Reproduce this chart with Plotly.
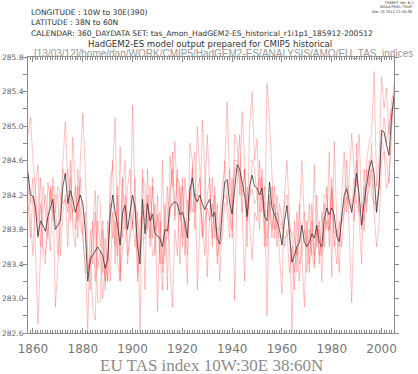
import plotly.graph_objects as go

years = list(range(1858, 2006))

ens_mean = [
    284.45, 284.2, 284.18, 284.05, 283.72, 283.9, 283.85, 283.78, 283.95, 284.05,
    284.15, 283.8, 283.85, 283.9, 284.3, 284.45, 284.1, 284.25, 284.15, 284.0,
    284.1, 284.2, 284.1, 283.8, 283.2, 283.45, 283.5, 283.55, 283.6, 283.55,
    283.5, 283.35, 283.45, 283.95, 284.2, 284.0, 283.85, 283.62, 284.0, 284.08,
    283.8, 284.0, 284.2, 284.05, 283.6, 283.4, 284.15, 283.75, 284.1, 283.9,
    283.98, 283.75, 283.73, 283.7, 283.6, 283.8, 283.78, 284.05, 284.1, 284.12,
    284.1, 283.97, 284.0, 283.9, 283.7, 284.25, 284.4, 284.18, 284.12, 284.2,
    284.1, 284.03, 284.1, 284.15, 283.95, 284.0, 283.7, 283.63, 284.0, 284.35,
    284.38, 284.1, 283.98, 284.25, 284.55, 284.5, 284.35, 284.2, 283.95, 284.3,
    284.43, 284.3, 284.28, 284.2, 284.28, 283.95, 283.9, 284.35, 284.05, 283.98,
    283.9, 283.8, 283.62, 283.9, 284.08, 283.75, 283.42, 283.5, 283.6, 283.65,
    283.85, 283.65, 283.6, 283.65, 283.75, 283.7, 283.85, 283.65, 283.6, 283.92,
    284.05, 283.97, 284.05, 283.97, 283.72, 283.66, 283.92, 284.2, 284.27, 284.12,
    284.0, 284.2, 284.45, 284.2, 283.85, 284.12, 284.3, 284.5, 284.6, 284.45,
    284.0, 284.28, 284.95, 284.93, 284.78, 284.66, 285.1, 285.35,
]

member_r1 = [
    284.9, 285.1, 284.6, 284.2, 283.9, 284.4, 283.5, 283.4, 284.35, 284.1,
    284.4, 284.1, 283.5, 284.1, 284.6, 285.05, 284.3, 283.9, 284.87, 284.3,
    283.7, 284.6, 285.15, 284.5, 283.5, 283.1, 283.9, 283.2, 284.2, 284.1,
    283.3, 283.7, 283.2, 284.4, 284.5, 285.1, 283.5, 284.76, 283.7, 284.2,
    283.4, 283.8, 285.24, 284.1, 283.9, 282.62, 284.4, 284.3, 283.8, 284.3,
    283.7, 284.1, 282.85, 283.9, 283.4, 284.1, 283.1, 284.65, 284.3, 284.82,
    284.0, 283.4, 284.4, 283.8, 283.16, 284.8, 284.6, 283.8, 284.99, 284.5,
    283.7, 284.2, 284.9, 284.3, 283.6, 284.2, 283.4, 283.9, 284.3, 284.5,
    285.28, 284.3, 283.7, 284.9, 284.8, 284.2, 285.17, 284.6, 283.6, 285.0,
    285.4, 284.6, 284.85, 284.0, 284.5, 283.6, 285.5, 285.07, 284.4, 283.8,
    284.2, 283.5, 283.05, 284.2, 284.6, 284.0, 282.62, 283.9, 283.3, 283.9,
    284.6, 283.9, 283.3, 283.8, 283.5, 284.55, 283.6, 283.9, 283.2, 284.1,
    283.8, 284.7, 283.25, 284.82, 283.9, 283.3, 284.2, 284.7, 284.0, 284.4,
    284.91, 284.5, 284.3, 284.9, 284.1, 283.9, 284.6, 284.8, 284.9, 285.63,
    284.3, 284.6, 285.57, 285.2, 285.44, 284.9, 285.3, 285.38,
]

member_r2 = [
    284.3, 283.9, 283.5, 284.3, 284.55, 283.6, 284.3, 284.0, 283.7, 284.3,
    283.9, 284.2, 284.2, 283.5, 284.0, 284.2, 283.6, 284.6, 283.8, 283.6,
    284.5, 284.0, 283.7, 283.4, 282.65, 283.8, 283.4, 284.0, 282.95, 282.96,
    283.8, 283.1, 283.9, 283.2, 284.0, 283.6, 284.3, 283.3, 284.4, 283.8,
    284.3, 284.5, 283.8, 284.4, 283.3, 283.9, 284.0, 283.1, 284.5, 283.6,
    284.4, 283.5, 284.2, 283.4, 284.6, 283.5, 284.0, 284.2, 284.5, 283.9,
    284.4, 284.3, 283.7, 284.4, 284.0, 283.9, 284.5, 284.7, 283.1, 283.8,
    285.07, 284.5, 283.25, 284.0, 284.4, 283.7, 284.1, 283.2, 283.9, 284.6,
    284.0, 283.7, 284.4, 282.98, 284.3, 284.9, 284.0, 283.2, 284.3, 283.9,
    283.45, 284.0, 283.9, 284.6, 284.0, 284.3, 282.8, 284.2, 283.7, 284.3,
    283.6, 284.1, 283.9, 283.6, 283.8, 283.3, 283.6, 283.1, 284.0, 283.4,
    283.5, 282.9, 283.9, 283.4, 284.1, 283.4, 284.2, 283.4, 284.0, 283.6,
    284.3, 283.6, 284.4, 283.7, 283.4, 283.9, 283.6, 284.0, 284.6, 283.8,
    282.95, 284.0, 284.8, 283.9, 283.4, 284.5, 284.1, 284.3, 284.5, 284.0,
    283.6, 283.85, 284.6, 284.7, 284.28, 284.4, 284.9, 285.5,
]

member_r3 = [
    284.5, 284.1, 284.4, 283.6, 282.7, 283.5, 284.0, 284.2, 283.9, 283.55,
    284.3, 282.9, 283.4, 283.8, 284.5, 284.4, 284.5, 284.1, 284.0, 284.3,
    283.9, 284.4, 283.8, 283.3, 283.3, 283.5, 282.9, 282.75, 283.9, 283.6,
    283.9, 283.2, 283.5, 284.1, 283.7, 283.9, 283.4, 283.2, 284.3, 284.6,
    283.5, 283.7, 283.9, 283.6, 284.0, 283.5, 284.5, 283.9, 284.2, 283.7,
    284.3, 283.8, 283.9, 284.0, 283.3, 283.9, 284.3, 283.4, 282.9, 283.8,
    283.5, 284.3, 283.6, 283.9, 283.5, 284.3, 284.0, 284.2, 284.2, 284.1,
    283.9, 283.5, 284.2, 284.4, 283.7, 284.3, 283.5, 283.6, 283.7, 284.1,
    284.1, 284.5, 284.0, 284.6, 284.6, 284.5, 284.2, 284.5, 284.0, 284.1,
    284.6, 284.5, 284.2, 283.8, 284.4, 283.8, 283.6, 284.0, 284.3, 283.7,
    284.0, 283.9, 283.8, 284.1, 284.2, 283.9, 283.7, 283.3, 283.6, 283.2,
    283.8, 284.0, 283.6, 283.3, 283.9, 283.5, 283.8, 283.5, 283.7, 284.2,
    284.2, 283.8, 284.3, 283.6, 283.8, 283.6, 284.0, 284.1, 284.3, 284.2,
    284.1, 283.9, 284.6, 284.0, 283.8, 284.3, 284.0, 284.6, 284.2, 284.1,
    284.1, 284.3, 284.8, 285.1, 284.8, 285.0, 285.2, 285.2,
]

member_r4 = [
    284.1, 283.7, 284.2, 284.1, 283.7, 284.1, 283.6, 283.5, 283.85, 284.25,
    284.0, 284.0, 284.3, 284.2, 284.1, 284.15, 284.0, 284.4, 283.95, 283.8,
    284.3, 283.8, 283.75, 284.0, 283.35, 283.4, 283.8, 284.25, 283.35, 283.55,
    283.0, 283.4, 283.2, 284.1, 284.6, 283.4, 284.2, 283.2, 283.6, 283.7,
    284.0, 284.0, 283.86, 284.1, 283.2, 283.6, 283.7, 283.7, 283.9, 284.0,
    283.5, 283.6, 283.97, 283.5, 283.1, 283.7, 283.7, 283.95, 284.7, 283.96,
    284.5, 283.9, 284.3, 283.5, 284.14, 284.0, 284.5, 284.0, 284.2, 284.4,
    283.73, 283.9, 284.05, 283.9, 284.1, 283.8, 283.8, 283.8, 284.1, 284.2,
    284.14, 283.9, 283.8, 284.5, 284.5, 284.4, 284.0, 284.5, 283.9, 284.2,
    284.27, 284.1, 284.17, 284.4, 284.2, 284.1, 283.7, 284.13, 283.8, 284.1,
    283.8, 283.7, 283.73, 283.7, 283.72, 283.8, 283.76, 283.7, 283.5, 284.1,
    283.5, 283.8, 283.6, 284.1, 283.5, 283.35, 283.8, 283.8, 283.5, 283.78,
    283.9, 283.78, 284.25, 283.76, 283.78, 283.84, 283.88, 284.0, 284.18, 284.08,
    284.04, 284.4, 284.1, 284.0, 284.1, 283.78, 284.5, 284.3, 284.8, 284.07,
    284.0, 284.37, 284.83, 284.72, 284.6, 284.34, 285.0, 285.32,
]

members = [member_r1, member_r2, member_r3, member_r4]

y_tick_values = [282.6, 283.0, 283.4, 283.8, 284.2, 284.6, 285.0, 285.4, 285.8]
x_tick_values = [1860, 1880, 1900, 1920, 1940, 1960, 1980, 2000]

W, H = 418, 374
L, R, T, B = 28, 394, 57, 333


def px(x):
    return (x - L) / (R - L)


def py(y):
    return (B - y) / (B - T)


fig = go.Figure()
for m in members:
    fig.add_trace(go.Scatter(
        x=years, y=m, mode="lines",
        line=dict(color="rgba(255,40,40,0.28)", width=1),
        showlegend=False, hoverinfo="skip",
    ))
fig.add_trace(go.Scatter(
    x=years, y=ens_mean, mode="lines",
    line=dict(color="rgba(40,40,40,0.75)", width=1),
    showlegend=False,
))

axis_col = "#8a8a8a"
fig.update_layout(
    width=W, height=H,
    margin=dict(l=L, r=W - R, t=T, b=H - B, autoexpand=False),
    paper_bgcolor="white", plot_bgcolor="white",
    font=dict(family="DejaVu Sans", color="#555"),
    xaxis=dict(
        range=[1858, 2005], tickvals=x_tick_values, automargin=False,
        ticks="inside", ticklen=5, tickcolor=axis_col,
        showline=True, linecolor=axis_col, linewidth=1, mirror="allticks",
        showgrid=False, zeroline=False, ticklabelstandoff=5,
        tickfont=dict(size=12, color="#777"),
        minor=dict(dtick=1, tick0=1858, ticks="inside", ticklen=3, tickcolor=axis_col),
    ),
    yaxis=dict(
        range=[282.6, 285.8], tickvals=y_tick_values, tickformat=".1f", automargin=False,
        ticks="outside", ticklen=4, tickcolor=axis_col, ticklabelstandoff=-2,
        showline=True, linecolor=axis_col, linewidth=1, mirror="allticks",
        showgrid=False, zeroline=False,
        tickfont=dict(size=7.5, color="#666"),
        minor=dict(dtick=0.2, tick0=282.6, ticks="outside", ticklen=4, tickcolor=axis_col),
    ),
)

ann = []


def add(text, x, y, size, xanchor="left", color="#333", family="DejaVu Sans"):
    ann.append(dict(text=text, x=px(x), y=py(y), xref="paper", yref="paper",
                    xanchor=xanchor, yanchor="middle", showarrow=False,
                    font=dict(size=size, color=color, family=family)))


add("LONGITUDE : 10W to 30E(390)", 29, 13, 7.6)
add("LATITUDE : 38N to 60N", 29, 23, 7.6)
add("CALENDAR: 360_DAYDATA SET: tas_Amon_HadGEM2-ES_historical_r1i1p1_185912-200512", 29, 33, 7.6)
add("HadGEM2-ES model output prepared for CMIP5 historical", 210, 44, 8.6, xanchor="center")
add("[13/03/12]/home/dan/WORK/CMIP5/HadGEM2-ES/ANALYSIS/AMO/EU_TAS_indices", 223, 54, 10,
    xanchor="center", color="#999", family="Liberation Sans")
add("FERRET Ver. 6.1", 415, 3, 3.6, xanchor="right")
add("NOAA/PMEL TMAP", 415, 7.5, 3.6, xanchor="right")
add("Mar 13 2012 22:59:38", 415, 12, 3.6, xanchor="right")
add("EU TAS index 10W:30E 38:60N", 211, 365, 17, xanchor="center", color="#8c8c8c",
    family="Liberation Serif")
fig.update_layout(annotations=ann)

fig.write_html("out.html", config={"displayModeBar": False},
               post_script="document.body.style.margin='0';")
